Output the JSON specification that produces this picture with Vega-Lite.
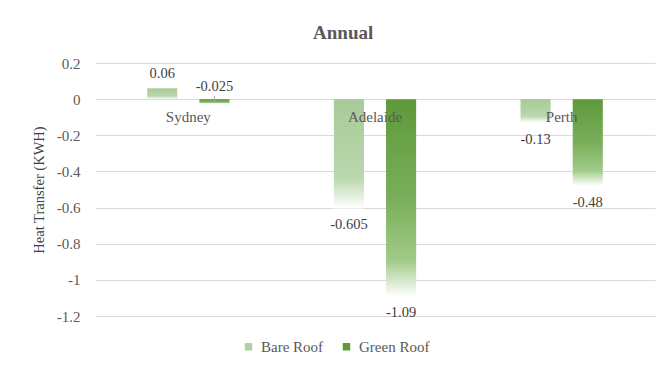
{
  "$schema": "https://vega.github.io/schema/vega-lite/v6.json",
  "width": 560,
  "height": 253,
  "autosize": {"type": "none"},
  "padding": {"left": 95, "top": 63, "right": 15, "bottom": 50},
  "background": "white",
  "title": {"text": "Annual", "font": "Liberation Serif", "fontSize": 19, "fontWeight": "bold", "color": "#595959", "anchor": "middle", "frame": "bounds", "offset": 13},
  "config": {"view": {"stroke": null}, "text": {"font": "Liberation Serif", "fontSize": 14.5, "fill": "#404040"}},
  "data": {"values": [
    {"city": "Sydney", "roof": "Bare Roof", "value": 0.06},
    {"city": "Sydney", "roof": "Green Roof", "value": -0.025},
    {"city": "Adelaide", "roof": "Bare Roof", "value": -0.605},
    {"city": "Adelaide", "roof": "Green Roof", "value": -1.09},
    {"city": "Perth", "roof": "Bare Roof", "value": -0.13},
    {"city": "Perth", "roof": "Green Roof", "value": -0.48}
  ]},
  "encoding": {
    "x": {"field": "city", "type": "nominal", "sort": ["Sydney", "Adelaide", "Perth"], "scale": {"paddingInner": 0, "paddingOuter": 0},
      "axis": {"orient": "bottom", "offset": -217, "title": null, "domain": false, "ticks": false, "labelAngle": 0, "labelPadding": 10, "labelFont": "Liberation Serif", "labelFontSize": 15, "labelColor": "#595959", "zindex": 2}},
    "xOffset": {"field": "roof", "type": "nominal", "sort": ["Bare Roof", "Green Roof"], "scale": {"paddingInner": 0.423, "paddingOuter": 1.0}},
    "y": {"field": "value", "type": "quantitative", "scale": {"domain": [-1.2, 0.2], "nice": false},
      "axis": {"values": [-1.2, -1, -0.8, -0.6, -0.4, -0.2, 0, 0.2], "labelExpr": "'' + datum.value", "title": "Heat Transfer (KWH)", "titleFont": "Liberation Serif", "titleFontSize": 14.5, "titleFontWeight": "normal", "titleColor": "#404040", "titlePadding": 10, "labelFont": "Liberation Serif", "labelFontSize": 15, "labelColor": "#595959", "labelPadding": 15, "domain": false, "ticks": false, "gridColor": "#d9d9d9", "gridWidth": 1}}
  },
  "layer": [
    {
      "mark": {"type": "bar", "opacity": 0},
      "encoding": {
        "color": {"field": "roof", "type": "nominal", "sort": ["Bare Roof", "Green Roof"],
          "scale": {"domain": ["Bare Roof", "Green Roof"], "range": ["#b2d1a3", "#5e993a"]},
          "legend": {"title": null, "orient": "none", "direction": "horizontal", "legendX": 146, "legendY": 276, "symbolType": "square", "symbolSize": 56, "symbolStrokeWidth": 0, "symbolOpacity": 1, "labelFont": "Liberation Serif", "labelFontSize": 15, "labelColor": "#595959", "labelOffset": 5, "columnPadding": 15}}
      }
    },
    {
      "transform": [{"filter": "datum.roof == 'Bare Roof'"}],
      "mark": {"type": "bar", "fill": {"gradient": "linear", "x1": 0, "y1": 0, "x2": 0, "y2": 1, "stops": [{"offset": 0, "color": "#a8ca97"}, {"offset": 0.72, "color": "#bad7ad"}, {"offset": 1, "color": "#ffffff"}]}}
    },
    {
      "transform": [{"filter": "datum.roof == 'Green Roof'"}],
      "mark": {"type": "bar", "fill": {"gradient": "linear", "x1": 0, "y1": 0, "x2": 0, "y2": 1, "stops": [{"offset": 0, "color": "#5e993a"}, {"offset": 0.5, "color": "#7aae5a"}, {"offset": 0.82, "color": "#a0cb88"}, {"offset": 1, "color": "#ffffff"}]}}
    },
    {
      "transform": [{"filter": "datum.value < 0 && datum.value > -0.05"}],
      "mark": {"type": "rule", "color": "#a6a6a6", "strokeWidth": 1},
      "encoding": {"y": {"datum": 0.018, "type": "quantitative"}, "y2": {"datum": -0.022}}
    },
    {
      "transform": [{"filter": "datum.value < -0.05"}],
      "mark": {"type": "text", "dy": 17, "baseline": "middle"},
      "encoding": {"text": {"field": "value", "type": "nominal"}}
    },
    {
      "transform": [{"filter": "datum.value > 0"}],
      "mark": {"type": "text", "dy": -14, "baseline": "middle"},
      "encoding": {"text": {"field": "value", "type": "nominal"}}
    },
    {
      "transform": [{"filter": "datum.value < 0 && datum.value > -0.05"}],
      "mark": {"type": "text", "dy": -12, "baseline": "middle"},
      "encoding": {"y": {"datum": 0, "type": "quantitative"}, "text": {"field": "value", "type": "nominal"}}
    }
  ]
}
